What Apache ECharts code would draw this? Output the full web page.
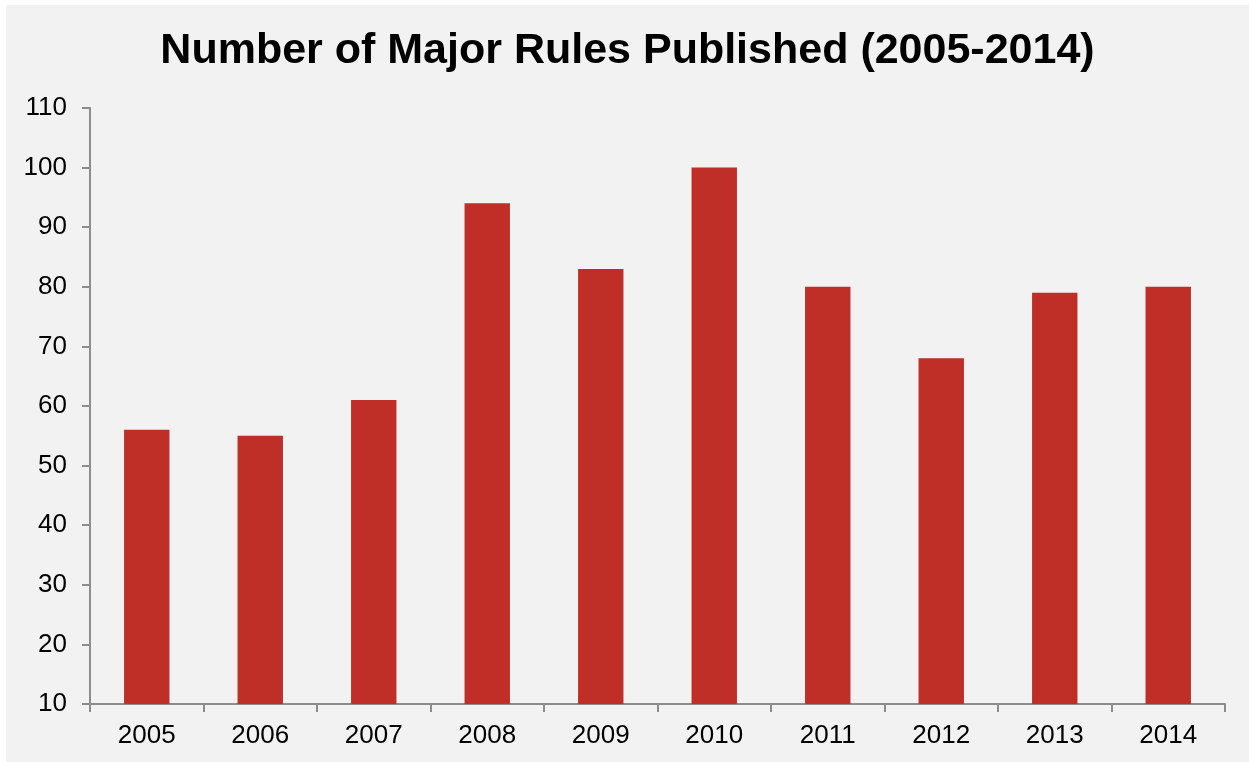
<!DOCTYPE html>
<html>
<head>
<meta charset="utf-8">
<script src="https://cdn.jsdelivr.net/npm/echarts@6/dist/echarts.min.js"></script>
<style>
  html, body { margin: 0; padding: 0; background: #ffffff; }
  #chart { position: absolute; left: 6px; top: 5px; width: 1243px; height: 757px; background: #f2f2f2; }
</style>
</head>
<body>
<div id="chart"></div>
<script>
const years = ['2005', '2006', '2007', '2008', '2009', '2010', '2011', '2012', '2013', '2014'];
const majorRules = [56, 55, 61, 94, 83, 100, 80, 68, 79, 80];
const yMin = 10;
const yMax = 110;
const yStep = 10;

const chart = echarts.init(document.getElementById('chart'));
const axisGray = '#8c8c8c';
chart.setOption({
  backgroundColor: '#f2f2f2',
  animation: false,
  title: {
    text: 'Number of Major Rules Published (2005-2014)',
    left: 'center',
    top: 20,
    textStyle: {
      fontFamily: 'Liberation Sans, Arial, sans-serif',
      fontSize: 43,
      fontWeight: 'bold',
      color: '#000'
    }
  },
  grid: { left: 84, right: 24, top: 103, bottom: 58 },
  xAxis: {
    type: 'category',
    data: years,
    axisLine: { lineStyle: { color: axisGray, width: 2 } },
    axisTick: { show: true, length: 8, lineStyle: { color: axisGray, width: 2 } },
    axisLabel: {
      margin: 19,
      fontFamily: 'Liberation Sans, Arial, sans-serif',
      fontSize: 26,
      color: '#000'
    }
  },
  yAxis: {
    type: 'value',
    min: yMin,
    max: yMax,
    interval: yStep,
    splitLine: { show: false },
    axisLine: { show: true, lineStyle: { color: axisGray, width: 2 } },
    axisTick: { show: true, length: 8, lineStyle: { color: axisGray, width: 2 } },
    axisLabel: {
      margin: 23,
      fontFamily: 'Liberation Sans, Arial, sans-serif',
      fontSize: 26,
      color: '#000'
    }
  },
  series: [{
    type: 'bar',
    data: majorRules,
    barWidth: '40%',
    itemStyle: { color: '#bf2f28' }
  }]
});
</script>
</body>
</html>
